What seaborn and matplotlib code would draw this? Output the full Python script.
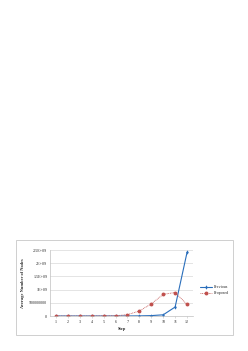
import matplotlib
matplotlib.use("Agg")
import matplotlib.pyplot as plt
import seaborn as sns
import pandas as pd
from matplotlib.patches import Rectangle

steps = [1, 2, 3, 4, 5, 6, 7, 8, 9, 10, 11, 12]
previous = [0, 0, 0, 0, 0, 0, 2e6, 5e6, 1.5e7, 4.5e7, 3.4e8, 2.41e9]
proposed = [0, 0, 0, 0, 5e6, 1e7, 5e7, 1.9e8, 4.6e8, 8.2e8, 8.9e8, 4.4e8]
yticks = [0, 5e8, 1e9, 1.5e9, 2e9, 2.5e9]
ytick_labels = ["0", "500000000", "1E+09", "1.5E+09", "2E+09", "2.5E+09"]

sns.set_theme(style="white")
plt.rcParams['font.family'] = ['Liberation Serif', 'DejaVu Serif']

W, H = 248, 351
fig = plt.figure(figsize=(W / 100, H / 100), dpi=100)
fig.patch.set_facecolor("white")
fig.patches.append(Rectangle((16 / W, 1 - 335 / H), 217 / W, 95 / H, transform=fig.transFigure,
                             fill=False, edgecolor="#c8c8c8", linewidth=0.6))

ax = fig.add_axes([50 / W, 35 / H, 143 / W, 66 / H])
df = pd.DataFrame({"Step": steps * 2,
                   "val": previous + proposed,
                   "series": ["Previous"] * 12 + ["Proposed"] * 12})
sns.lineplot(data=df[df.series == "Previous"], x="Step", y="val", ax=ax, color="#2a6ebb",
             linewidth=0.8, marker="d", markersize=2.2, markeredgewidth=0, label="Previous")
sns.lineplot(data=df[df.series == "Proposed"], x="Step", y="val", ax=ax, color="#c0504d",
             linewidth=0.6, linestyle=(0, (1, 1)), marker="o", markersize=2.8, markeredgewidth=0,
             label="Proposed")

ax.set_xlim(0.5, 12.5)
ax.set_ylim(0, 2.5e9)
ax.set_xticks(steps)
ax.set_xticklabels([str(s) for s in steps], fontsize=3)
ax.set_yticks(yticks)
ax.set_yticklabels(ytick_labels, fontsize=3)
ax.yaxis.grid(True, color="#d9d9d9", linewidth=0.5)
ax.xaxis.grid(False)
for s in ["top", "right"]:
    ax.spines[s].set_visible(False)
for s in ["left", "bottom"]:
    ax.spines[s].set_color("#bfbfbf")
    ax.spines[s].set_linewidth(0.5)
ax.tick_params(axis="x", length=1.5, width=0.4, color="#bfbfbf", pad=1.5, bottom=True)
ax.tick_params(axis="y", length=0, pad=2)
ax.set_xlabel("Step", fontsize=3.2, fontweight="bold", labelpad=2)
ax.set_ylabel("Average Number of Nodes", fontsize=3.2, fontweight="bold", labelpad=3)

leg = ax.legend(loc="center left", bbox_to_anchor=(1.02, 0.39), frameon=False, fontsize=3,
                handlelength=3, handletextpad=0.4, labelspacing=0.5)

fig.savefig("out.png", dpi=100, facecolor="white")
